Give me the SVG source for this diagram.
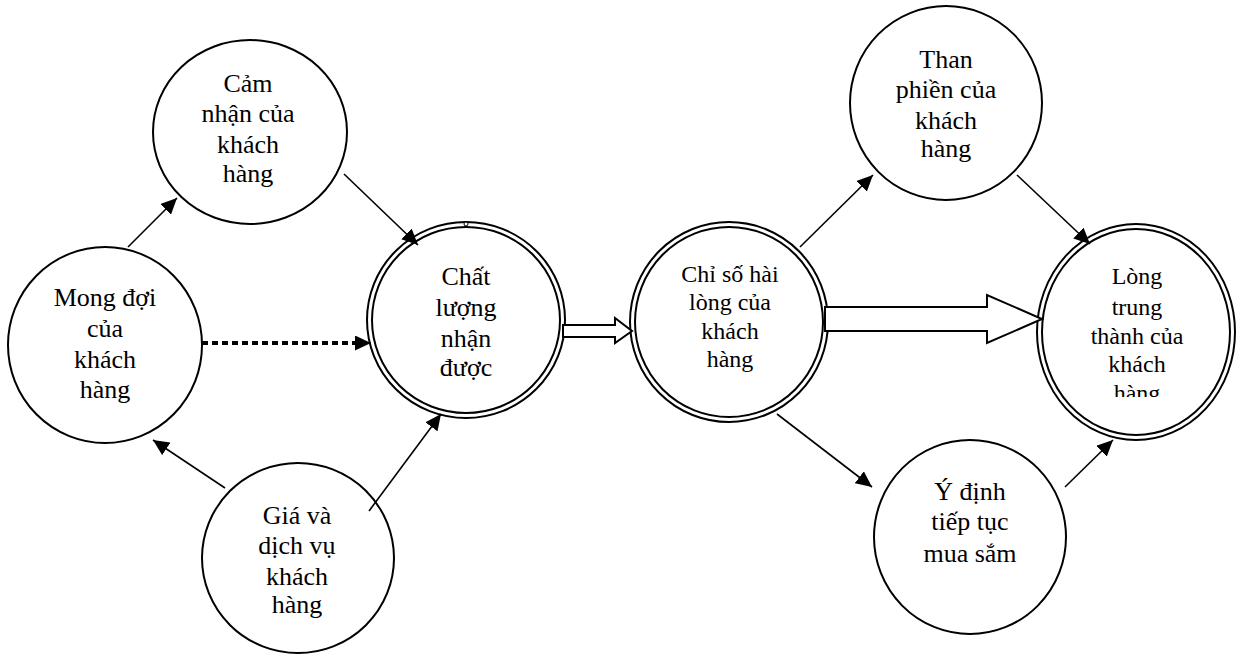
<svg xmlns="http://www.w3.org/2000/svg" width="1243" height="655" viewBox="0 0 1243 655">
<style>
.n{fill:#fff;stroke:#000;stroke-width:2}
text{font-family:'Liberation Serif',serif;font-size:26px;fill:#000;text-anchor:middle}
.s{font-size:24px}
.c{stroke:#000;stroke-width:1.6;fill:none;marker-end:url(#ah)}
.b{fill:#fff;stroke:#000;stroke-width:2;stroke-linejoin:miter}
</style>
<defs>
<marker id="ah" markerUnits="userSpaceOnUse" markerWidth="17" markerHeight="15" refX="16" refY="7.5" orient="auto">
<path d="M0,0 L16,7.5 L0,15 z" fill="#000"/>
</marker>
<clipPath id="clipL"><rect x="1040" y="250" width="200" height="147"/></clipPath>
</defs>
<rect width="1243" height="655" fill="#fff"/>

<g id="node-camnhan">
<ellipse class="n" cx="250" cy="132" rx="97" ry="92"/>
<text x="248" y="92">Cảm</text>
<text x="248" y="122">nhận của</text>
<text x="248" y="153">khách</text>
<text x="248" y="182">hàng</text>
</g>

<g id="node-mongdoi">
<ellipse class="n" cx="105" cy="345" rx="97" ry="98"/>
<text x="105" y="306">Mong đợi</text>
<text x="105" y="337">của</text>
<text x="105" y="368">khách</text>
<text x="105" y="398">hàng</text>
</g>

<g id="node-gia">
<ellipse class="n" cx="298" cy="558" rx="96" ry="95"/>
<text x="297" y="524">Giá và</text>
<text x="297" y="554">dịch vụ</text>
<text x="297" y="585">khách</text>
<text x="297" y="613">hàng</text>
</g>

<g id="node-chatluong">
<ellipse class="n" cx="466" cy="320" rx="99" ry="98"/>
<ellipse class="n" cx="466" cy="320" rx="94" ry="93"/>
<circle cx="466" cy="224" r="2" fill="#fff" stroke="#000" stroke-width="1"/>
<text x="466" y="285">Chất</text>
<text x="466" y="316">lượng</text>
<text x="466" y="347">nhận</text>
<text x="466" y="376">được</text>
</g>

<g id="node-chiso">
<ellipse class="n" cx="729" cy="322" rx="99" ry="100"/>
<ellipse class="n" cx="729" cy="322" rx="94" ry="95"/>
<text class="s" x="730" y="282">Chỉ số hài</text>
<text class="s" x="730" y="310">lòng của</text>
<text class="s" x="730" y="339">khách</text>
<text class="s" x="730" y="367">hàng</text>
</g>

<g id="node-thanphien">
<ellipse class="n" cx="946" cy="103" rx="96" ry="97"/>
<text x="946" y="68">Than</text>
<text x="946" y="98">phiền của</text>
<text x="946" y="129">khách</text>
<text x="946" y="157">hàng</text>
</g>

<g id="node-ydinh">
<ellipse class="n" cx="970" cy="537" rx="96" ry="97"/>
<text x="970" y="500">Ý định</text>
<text x="970" y="530">tiếp tục</text>
<text x="970" y="562">mua sắm</text>
</g>

<g id="node-longtrungthanh">
<ellipse class="n" cx="1136" cy="332" rx="99" ry="108"/>
<ellipse class="n" cx="1136" cy="332" rx="94" ry="103"/>
<g clip-path="url(#clipL)">
<text class="s" x="1137" y="284">Lòng</text>
<text class="s" x="1137" y="315">trung</text>
<text class="s" x="1137" y="344">thành của</text>
<text class="s" x="1137" y="372">khách</text>
<text class="s" x="1137" y="401">hàng</text>
</g>
</g>

<g id="connectors">
<line class="c" x1="128" y1="247" x2="177" y2="198"/>
<line class="c" x1="344" y1="174" x2="418" y2="245"/>
<line class="c" x1="225" y1="488" x2="153" y2="440"/>
<line class="c" x1="369" y1="511" x2="441" y2="414"/>
<line x1="202" y1="343" x2="356" y2="343" stroke="#000" stroke-width="4" stroke-dasharray="6,4"/>
<line class="c" x1="352" y1="343" x2="371" y2="343"/>
<line class="c" x1="800" y1="247" x2="873" y2="175"/>
<line class="c" x1="1017" y1="175" x2="1090" y2="244"/>
<line class="c" x1="777" y1="414" x2="872" y2="487"/>
<line class="c" x1="1065" y1="487" x2="1113" y2="440"/>
<path class="b" d="M563,325 L615,325 L615,318 L632,331 L615,343 L615,337 L563,337 Z"/>
<path class="b" d="M825,307 L987,307 L987,295 L1042,319 L987,343 L987,331 L825,331 Z"/>
</g>
</svg>
